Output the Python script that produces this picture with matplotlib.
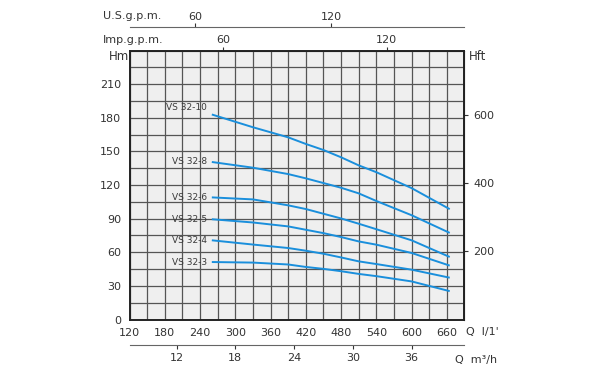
import matplotlib
matplotlib.use("Agg")
import matplotlib.pyplot as plt

# Caudal (l/min) y altura (m)
caudal = [260, 330, 390, 420, 450, 480, 510, 540, 600, 665]
modelos = ["VS 32-10", "VS 32-8", "VS 32-6", "VS 32-5", "VS 32-4", "VS 32-3"]
vs32_10 = [183, 171.6, 162.6, 156.7, 151.3, 144.8, 137.6, 131.5, 117.3, 98.5]
vs32_8 = [140.6, 135.5, 129.8, 126, 121.8, 117.6, 112.6, 105.8, 93.1, 77.3]
vs32_6 = [109, 107.2, 101.9, 98.6, 94.4, 90.2, 85.5, 80.6, 70.7, 55.8]
vs32_5 = [89.5, 86.6, 83.1, 80.1, 77.1, 73.6, 69.7, 66.8, 59.4, 48.1]
vs32_4 = [70.7, 66.9, 63.8, 61.4, 58.7, 55.4, 51.9, 49.5, 44.5, 37.3]
vs32_3 = [51.3, 50.8, 49.1, 46.9, 45.2, 43.1, 40.7, 38.7, 34.0, 25.3]
curvas = [vs32_10, vs32_8, vs32_6, vs32_5, vs32_4, vs32_3]

# Ejes secundarios
us_ticks = [60, 120]
imp_ticks = [60, 120]
m3h_ticks = [12, 18, 24, 30, 36]
ft_ticks = [200, 400, 600]

# factores como en el grafico original
US_F = 3.86
IMP_F = 4.65
M_FT = 3.2808

gris = "#333333"
azul = "#1a8fdc"

fig = plt.figure(figsize=(6, 3.75), dpi=100)
ax = fig.add_axes([0.216, 0.148, 0.558, 0.717])
ax.set_facecolor("#efefef")

for nombre, h in zip(modelos, curvas):
    ax.plot(caudal, h, color=azul, lw=1.4, solid_capstyle="butt", zorder=3)
    dy = 6 if nombre == "VS 32-10" else 0
    ax.text(252, h[0] + dy, nombre, ha="right", va="center", fontsize=6.5,
            color="#3a3a3a", zorder=4)

ax.set_xlim(120, 690)
ax.set_ylim(0, 240)
ax.set_xticks(range(120, 661, 60))
ax.set_xticks(range(150, 690, 60), minor=True)
ax.set_yticks(range(0, 211, 30))
ax.set_yticks(range(15, 240, 30), minor=True)
ax.grid(True, which="both", color="#555555", lw=0.9)
ax.set_axisbelow(True)
ax.tick_params(which="both", length=0, labelsize=8, labelcolor=gris)
ax.tick_params(axis="x", pad=6)
ax.tick_params(axis="y", pad=6)
for s in ax.spines.values():
    s.set_linewidth(1.4)
    s.set_color("#222222")

# Hft a la derecha
axr = ax.secondary_yaxis("right", functions=(lambda m: m * M_FT, lambda f: f / M_FT))
axr.set_yticks(ft_ticks)
axr.tick_params(length=3, width=0.8, labelsize=8, labelcolor=gris, color=gris)

# Imp.g.p.m. arriba
axi = ax.secondary_xaxis("top", functions=(lambda q: q / IMP_F, lambda g: g * IMP_F))
axi.set_xticks(imp_ticks)
axi.tick_params(length=3, width=0.8, labelsize=8, labelcolor=gris, color=gris, pad=1)

# U.S.g.p.m.
axu = ax.secondary_xaxis(1.087, functions=(lambda q: q / US_F, lambda g: g * US_F))
axu.set_xticks(us_ticks)
axu.tick_params(length=3, width=0.8, labelsize=8, labelcolor=gris, color=gris, pad=1)
axu.spines["top"].set_color("#666666")
axu.spines["top"].set_linewidth(0.8)

# m3/h abajo
axm = ax.secondary_xaxis(-0.095, functions=(lambda q: q * 0.06, lambda c: c / 0.06))
axm.set_xticks(m3h_ticks)
axm.tick_params(length=3, width=0.8, labelsize=8, labelcolor=gris, color=gris, pad=3)
axm.spines["bottom"].set_color("#666666")
axm.spines["bottom"].set_linewidth(0.8)

# Etiquetas de texto
fig.text(103 / 600, 1 - 16 / 375, "U.S.g.p.m.", fontsize=8, color=gris, va="center")
fig.text(103 / 600, 1 - 40 / 375, "Imp.g.p.m.", fontsize=8, color=gris, va="center")
fig.text(109 / 600, 1 - 56 / 375, "Hm", fontsize=8.5, color=gris, va="center")
fig.text(469 / 600, 1 - 56 / 375, "Hft", fontsize=8.5, color=gris, va="center")
fig.text(466 / 600, 1 - 332 / 375, "Q  l/1'", fontsize=8, color=gris, va="center")
fig.text(455 / 600, 1 - 360 / 375, "Q  m³/h", fontsize=8, color=gris, va="center")

plt.savefig("out.png", dpi=100)
